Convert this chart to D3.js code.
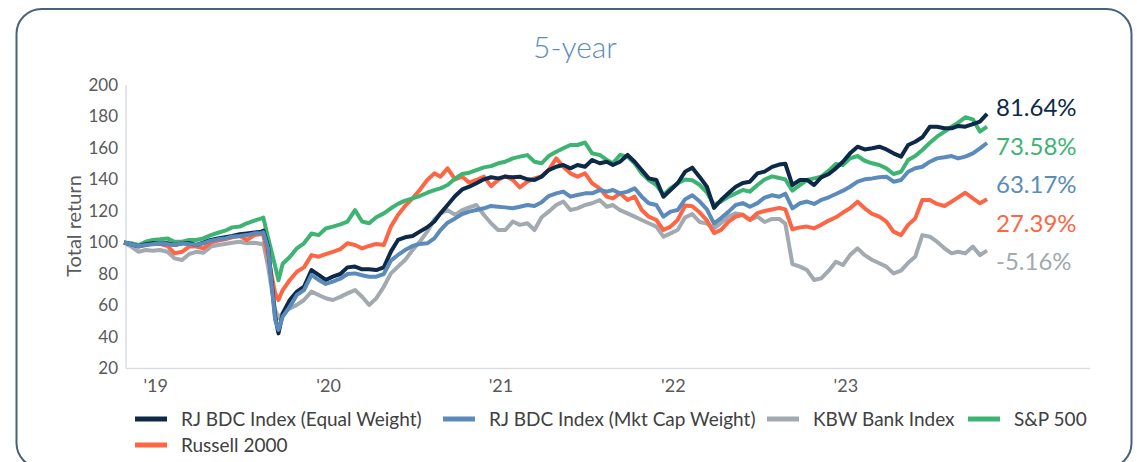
<!DOCTYPE html>
<html>
<head>
<meta charset="utf-8">
<script src="https://cdn.jsdelivr.net/npm/d3@7"></script>
<style>
  body { margin: 0; background: #fff; }
  svg text { font-family: Lato, "Open Sans", sans-serif; }
</style>
</head>
<body>
<div id="chart"></div>
<script>
// Sample dates (roughly twice a month) plus the Feb/Mar 2020 turning points
const dates = [
  "2019-05-01","2019-05-16","2019-06-01","2019-06-16","2019-07-01","2019-07-16","2019-08-01","2019-08-16",
  "2019-09-01","2019-09-16","2019-10-01","2019-10-16","2019-11-01","2019-11-16","2019-12-01","2019-12-16",
  "2020-01-01","2020-01-16","2020-02-01","2020-02-16","2020-02-20","2020-03-01","2020-03-16","2020-03-23",
  "2020-04-01","2020-04-16","2020-05-01","2020-05-16","2020-06-01","2020-06-16","2020-07-01","2020-07-16",
  "2020-08-01","2020-08-16","2020-09-01","2020-09-16","2020-10-01","2020-10-16","2020-11-01","2020-11-16",
  "2020-12-01","2020-12-16","2021-01-01","2021-01-16","2021-02-01","2021-02-16","2021-03-01","2021-03-16",
  "2021-04-01","2021-04-16","2021-05-01","2021-05-16","2021-06-01","2021-06-16","2021-07-01","2021-07-16",
  "2021-08-01","2021-08-16","2021-09-01","2021-09-16","2021-10-01","2021-10-16","2021-11-01","2021-11-16",
  "2021-12-01","2021-12-16","2022-01-01","2022-01-16","2022-02-01","2022-02-16","2022-03-01","2022-03-16",
  "2022-04-01","2022-04-16","2022-05-01","2022-05-16","2022-06-01","2022-06-16","2022-07-01","2022-07-16",
  "2022-08-01","2022-08-16","2022-09-01","2022-09-16","2022-10-01","2022-10-16","2022-11-01","2022-11-16",
  "2022-12-01","2022-12-16","2023-01-01","2023-01-16","2023-02-01","2023-02-16","2023-03-01","2023-03-16",
  "2023-04-01","2023-04-16","2023-05-01","2023-05-16","2023-06-01","2023-06-16","2023-07-01","2023-07-16",
  "2023-08-01","2023-08-16","2023-09-01","2023-09-16","2023-10-01","2023-10-16","2023-11-01","2023-11-16",
  "2023-12-01","2023-12-16","2024-01-01","2024-01-16","2024-02-01","2024-02-16","2024-03-01","2024-03-16",
  "2024-04-01","2024-04-16","2024-05-01"
];

const bdcEqual = [
  100,98.9,97.6,98.9,99.5,99.5,99.5,98.4,99.5,99.5,98.4,99.9,101.6,102.6,103.3,104.1,
  105.2,105.8,106.4,106.9,107.5,97.4,52.9,42.3,55.0,63.5,68.8,71.9,82.5,79.4,76.2,78.3,
  80,84.2,84.7,83.0,83.0,82.5,84.2,94.2,101.6,103.3,104.1,106.9,109.7,113.3,118.5,123.8,
  129.5,133.7,135.4,137.6,140.1,141.4,140.7,141.8,141.4,141.8,140.1,139.7,141.8,146.0,148.1,149.2,
  147.1,149.2,148.1,152.4,150.3,151.3,149.2,151.3,155.6,151.3,146.0,140.7,139.7,129.1,133.3,137.6,
  145,147.5,141.5,135.4,122,127,131.4,135.4,137.8,138.6,143.9,145,148,149.5,150,136.5,
  139.7,139.7,136.5,141.4,143.5,147.1,151.3,156.6,160.8,159.1,159.8,160.8,159.1,156.6,154.5,161.9,
  164.0,166.8,173.5,173.5,172.5,172.5,174.0,173.5,175.2,176.7,181.64
];

const bdcMktCap = [
  100,98.9,97.6,98.4,98.9,99.5,98.9,98.4,99.5,98.9,98.4,99.5,101.2,102.0,102.6,103.7,
  104.1,104.7,105.8,105.8,106.5,96.3,50.8,44.5,52.9,59.3,66.7,69.8,79.4,76.2,73.7,75.2,
  77.0,80.0,80.4,79.2,78.3,78.3,80.0,88.5,92.1,95.2,97.8,99.1,99.5,102.6,107.9,112.6,
  115.3,118.1,119.6,120.6,121.7,123.2,122.7,122.3,121.7,122.7,123.8,123.2,125.5,129.5,131.2,132.3,
  129.1,130.2,131.2,131.2,133.3,132.3,133.3,131.2,132.3,134.4,129.1,124.9,123.8,116.4,119.6,120.6,
  127.5,130,126,121,112,115.5,119.6,123.8,125,122.7,125,128.5,130,129,131,121.7,
  124.9,126.0,124.5,127.0,128.7,130.8,132.9,135.4,138.6,140.1,140.7,141.4,141.8,138.6,139.7,144.9,
  147.1,148.1,151.3,153.4,154.1,154.9,153.4,154.5,156.6,159.8,163.17
];

const kbwBank = [
  100,97.4,94.1,95.2,94.7,95.2,94.1,89.9,88.9,92.7,94.1,93.5,97.4,98.4,99.1,99.9,
  100.5,99.5,99.9,99.1,99.5,84.7,57.1,52,55.0,58.2,60.4,63.5,68.8,66.7,64.6,63.5,
  65.5,67.7,69.8,65.6,60.3,64.5,71.9,80.4,84.7,88.9,95.2,100.5,106.9,114.7,118.5,120.6,
  117.5,120.6,122.3,123.8,117.5,112.2,107.9,107.9,113.3,111.2,112.2,107.9,116,119.6,123.8,126.0,
  120.6,121.7,123.8,124.9,127.0,122.7,123.8,120.6,118.5,116.4,114.3,112.2,110.1,103.7,105.8,107.9,
  116,118,113,112,109,112.5,116.4,118.5,117.6,114.3,116.4,113,115,115,112,86.3,
  84.7,82.5,76.2,77.2,82.1,87.8,85.7,92.0,96.3,92.0,88.9,86.8,84.7,80.4,82.1,87.1,
  90.9,104.7,103.7,100.5,96.3,93.1,94.1,93.1,97.4,92.0,94.84
];

const sp500 = [
  100,99.5,98.4,100.5,101.6,102.0,102.6,100.5,100.5,101.6,101.6,102.6,104.7,106.2,107.5,109.6,
  110.1,112.2,113.9,115.3,115.8,103,85,76,86.5,90.8,96.3,99.5,105.7,104.7,108.9,110.1,
  111.5,113.3,120.6,113.3,112.2,116.0,118.5,121.7,124.5,126.6,128.0,129.5,131.6,133.3,134.4,136.5,
  140.7,143.5,144.3,146.0,147.7,148.5,150.3,151.3,153.4,154.5,155.5,151.3,150.3,154.9,157.6,159.8,
  161.9,161.9,163.5,156.6,155.6,152.4,150.3,155.6,154.5,150.3,143.9,139.7,136.5,130.2,134.4,137.6,
  140,139.5,136.5,131.8,124,126,129.1,131.2,133.3,132.3,136.5,140,142,141,140,132.9,
  136.5,139.7,140.7,141.8,145.6,149.9,149.2,153.4,154.9,151.9,150.3,149.2,147.1,143.5,144.9,152.4,
  154.9,158.7,163.3,167.2,170.4,173.5,176.1,179.5,178.2,170.4,173.58
];

const russell2000 = [
  100,98.9,97.4,98.4,99.5,99.1,97.8,93.1,94.1,97.4,97.4,96.3,99.9,101.2,102.0,103.3,
  104.1,101.6,104.7,105.4,104.5,91.0,67.7,63.5,69.8,76.2,81.4,84.2,92.0,91.0,92.6,94.1,
  95.8,99.5,98.4,96.3,97.8,99.1,98.4,110.1,117.5,123.2,128.0,133.3,139.7,143.9,141.8,147.1,
  140.1,141.8,138.0,139.7,141.8,135.8,139.7,142.2,139.7,135.0,138.6,140.7,142,146.0,153.4,148.1,
  143.9,141.8,143.9,137.6,134.4,129.1,128.0,131.2,127.0,129.1,120.6,116.4,114.3,107.9,110.1,114.3,
  123.5,123,119,114,106,108,113.2,116.4,117.6,114.3,118.7,120,121,122,121,108.4,
  109.6,110.1,109.0,111.2,113.9,116.0,119.0,121.7,125.9,121.7,118.1,116.4,113.3,106.9,104.7,111.2,
  115.3,127.0,127.0,124.5,123.2,125.9,128.7,131.6,128.0,124.9,127.39
];

const seriesNames = ["RJ BDC Index (Equal Weight)", "RJ BDC Index (Mkt Cap Weight)", "KBW Bank Index", "S&P 500", "Russell 2000"];
const seriesValues = [bdcEqual, bdcMktCap, kbwBank, sp500, russell2000];
const seriesColors = ["#0c2a48", "#5b8bbb", "#a2a9b1", "#3db471", "#fd6645"];
const endLabels = ["81.64%", "63.17%", "-5.16%", "73.58%", "27.39%"]; // per series
const endLabelOrder = [0, 3, 1, 4, 2]; // top to bottom
const yTicks = [20, 40, 60, 80, 100, 120, 140, 160, 180, 200];
const xTickDates = ["2019-07-06", "2020-07-06", "2021-07-06", "2022-07-06", "2023-07-06"];

const width = 1137, height = 462;
const parse = d3.timeParse("%Y-%m-%d");

const svg = d3.select("#chart").append("svg")
    .attr("width", width)
    .attr("height", height);

// Card border
svg.append("rect")
    .attr("x", 16.5).attr("y", 9)
    .attr("width", 1115).attr("height", 459)
    .attr("rx", 25)
    .attr("fill", "none")
    .attr("stroke", "#47627d")
    .attr("stroke-width", 2);

svg.append("text")
    .attr("x", 575).attr("y", 58)
    .attr("text-anchor", "middle")
    .attr("font-size", 30)
    .attr("font-weight", 300)
    .attr("fill", "#5b8bbb")
    .text("5-year");

const x = d3.scaleTime()
    .domain([parse("2019-05-01"), parse("2024-12-05")])
    .range([124, 1090]);
const y = d3.scaleLinear().domain([20, 200]).range([368.5, 85]);

// axes
svg.append("line")
    .attr("x1", 126).attr("x2", 126)
    .attr("y1", y(200)).attr("y2", y(20))
    .attr("stroke", "#d9dde2").attr("stroke-width", 1.5);
svg.append("line")
    .attr("x1", 126).attr("x2", 1090)
    .attr("y1", y(20)).attr("y2", y(20))
    .attr("stroke", "#d9dde2").attr("stroke-width", 1.5);

const yAxis = svg.append("g")
    .attr("transform", "translate(126,0)")
    .call(d3.axisLeft(y).tickValues(yTicks).tickSize(0).tickPadding(8));
yAxis.select(".domain").remove();
yAxis.selectAll("text").attr("font-size", 17).attr("fill", "#595959")
    .style("font-family", "Lato, sans-serif");

const xAxis = svg.append("g")
    .attr("transform", `translate(0,${y(20)})`)
    .call(d3.axisBottom(x).tickValues(xTickDates.map(parse))
        .tickFormat(d3.timeFormat("'%y")).tickSize(0).tickPadding(11));
xAxis.select(".domain").remove();
xAxis.selectAll("text").attr("font-size", 18).attr("fill", "#595959")
    .style("font-family", "Lato, sans-serif");

svg.append("text")
    .attr("transform", "translate(81,226) rotate(-90)")
    .attr("text-anchor", "middle")
    .attr("font-size", 20)
    .attr("fill", "#595959")
    .text("Total return");

// Lines
const line = d3.line()
    .x((d, i) => x(parse(dates[i])))
    .y(d => y(d));

const drawOrder = [2, 4, 3, 0, 1];
drawOrder.forEach(k => {
    svg.append("path")
        .datum(seriesValues[k])
        .attr("d", line)
        .attr("fill", "none")
        .attr("stroke", seriesColors[k])
        .attr("stroke-width", 4)
        .attr("stroke-linejoin", "round");
});

// End labels
endLabelOrder.forEach((k, j) => {
    svg.append("text")
        .attr("x", 996)
        .attr("y", 116 + j * 38.5)
        .attr("font-size", 24)
        .attr("fill", seriesColors[k])
        .text(endLabels[k]);
});

// Legend
const legendPos = [[135, 419], [443, 419], [767, 419], [968, 419], [135, 445]];
seriesNames.forEach((name, k) => {
    const [lx, ly] = legendPos[k];
    svg.append("line")
        .attr("x1", lx).attr("x2", lx + 32)
        .attr("y1", ly).attr("y2", ly)
        .attr("stroke", seriesColors[k])
        .attr("stroke-width", 5);
    svg.append("text")
        .attr("x", lx + 46).attr("y", ly + 7)
        .attr("font-size", 19)
        .attr("fill", "#404040")
        .text(name);
});
</script>
</body>
</html>
